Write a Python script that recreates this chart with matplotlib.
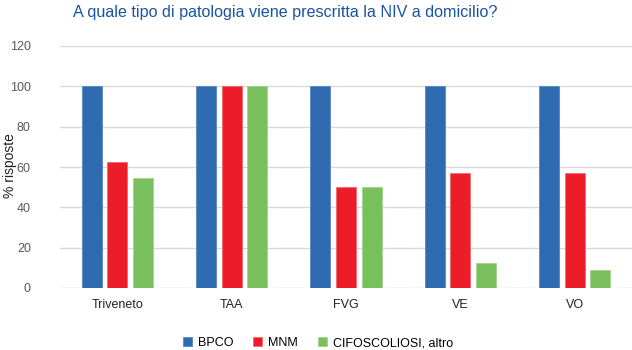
import numpy as np
import matplotlib.pyplot as plt

# Percentuali di risposta per area e patologia
aree = ['Triveneto', 'TAA', 'FVG', 'VE', 'VO']
bpco = [100, 100, 100, 100, 100]
mnm = [62.5, 100, 50, 57.1, 57.1]
cifoscoliosi = [54.5, 100, 50, 12.5, 8.7]
serie = ['BPCO', 'MNM', 'CIFOSCOLIOSI, altro']
colori = ['#2E6BB0', '#ED1C29', '#79BF5E']
bordi = ['#5A86C4', '#F26A6F', '#A3D48F']

plt.rcParams['font.family'] = ['Liberation Sans', 'DejaVu Sans']

fig = plt.figure(figsize=(6.32, 3.5), dpi=100)
ax = fig.add_axes([60 / 632, 62 / 350, 572 / 632, 242 / 350])

x = np.arange(len(aree))
w = 0.175
step = 0.223
for i, (vals, c, ec) in enumerate(zip([bpco, mnm, cifoscoliosi], colori, bordi)):
    ax.bar(x + (i - 1) * step, vals, w, color=c, edgecolor=ec, linewidth=0.6,
           label=serie[i], zorder=3)

ax.set_xlim(-0.5, len(aree) - 0.5)
ax.set_ylim(0, 120)
ax.set_yticks(range(0, 121, 20))
ax.set_xticks(x)
ax.set_xticklabels(aree)
ax.grid(axis='y', color='#D9D9D9', linewidth=1, zorder=0)
for s in ax.spines.values():
    s.set_visible(False)
ax.tick_params(axis='both', length=0, labelsize=9)
ax.tick_params(axis='y', colors='#595959', pad=21)
ax.tick_params(axis='x', colors='#222222', pad=8)

# etichetta asse y posizionata a mano sul bordo sinistro
fig.text(10 / 632, 1 - 166 / 350, '% risposte', rotation=90, ha='center', va='center',
         fontsize=10, color='#222222')

fig.text(285 / 632, 1 - 12 / 350, 'A quale tipo di patologia viene prescritta la NIV a domicilio?',
         ha='center', va='center', fontsize=11.6, color='#1B53A3')

leg = fig.legend(loc='center', bbox_to_anchor=(318 / 632, 7 / 350), ncol=3,
                 frameon=False, fontsize=9, handlelength=0.7, handleheight=0.7,
                 columnspacing=1.6, handletextpad=0.5)

fig.savefig('out.png', dpi=100)
